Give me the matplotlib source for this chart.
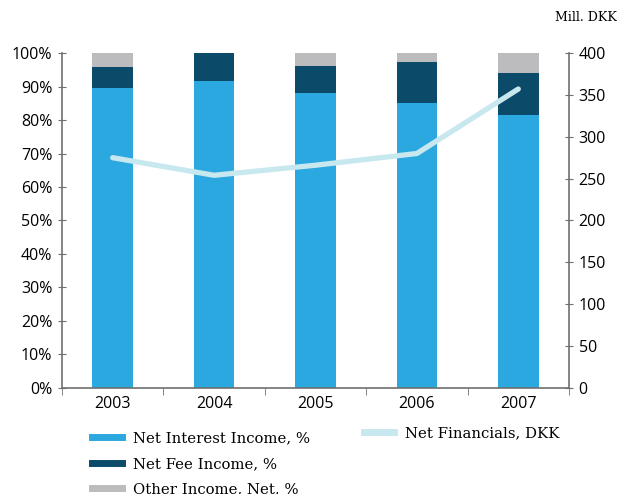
import matplotlib.pyplot as plt
from matplotlib.lines import Line2D

years = ['2003', '2004', '2005', '2006', '2007']
interest_pct = [89.6, 91.6, 88.1, 85.1, 81.5]
fee_pct = [6.2, 8.4, 8.0, 12.2, 12.5]
other_pct = [4.2, 0.0, 3.9, 2.7, 6.0]
net_financials = [275, 254, 266, 280, 357]

c_interest = '#2ca8e0'
c_fee = '#0c4a6a'
c_other = '#bcbcbe'
c_line = '#c8e8f0'
c_axis = '#6f6f6f'

plt.rcParams['font.family'] = ['Open Sans', 'DejaVu Sans']

fig = plt.figure(figsize=(6.18, 4.94), dpi=100)
ax = fig.add_axes([0.1003, 0.2146, 0.8204, 0.6781])

x = list(range(len(years)))
w = 0.4
ax.bar(x, interest_pct, width=w, color=c_interest)
ax.bar(x, fee_pct, width=w, bottom=interest_pct, color=c_fee)
tops = [a + b for a, b in zip(interest_pct, fee_pct)]
ax.bar(x, other_pct, width=w, bottom=tops, color=c_other)

ax.set_xlim(-0.5, len(years) - 0.5)
ax.set_ylim(0, 100)
ax.set_yticks(range(0, 101, 10))
ax.set_yticklabels([f'{v}%' for v in range(0, 101, 10)])
ax.set_xticks(x)
ax.set_xticklabels(years)
ax.set_xticks([i - 0.5 for i in range(len(years) + 1)], minor=True)
ax.tick_params(axis='x', which='major', length=0, labelsize=11.5, pad=6)
ax.tick_params(axis='x', which='minor', length=5, direction='out', color=c_axis)
ax.tick_params(axis='y', length=6, direction='inout', color=c_axis, labelsize=11.5, pad=4)
for s in ['top', 'right']:
    ax.spines[s].set_visible(False)
for s in ['left', 'bottom']:
    ax.spines[s].set_color(c_axis)
    ax.spines[s].set_linewidth(1.2)

ax2 = ax.twinx()
ax2.plot(x, net_financials, color=c_line, lw=3.8, solid_capstyle='round', solid_joinstyle='round')
ax2.set_ylim(0, 400)
ax2.set_yticks(range(0, 401, 50))
ax2.tick_params(axis='y', length=6, direction='inout', color=c_axis, labelsize=11.5, pad=4)
for s in ['top', 'left', 'bottom']:
    ax2.spines[s].set_visible(False)
ax2.spines['right'].set_color(c_axis)
ax2.spines['right'].set_linewidth(1.2)

fig.text(0.998, 0.965, 'Mill. DKK', ha='right', va='center', fontsize=9, family='DejaVu Serif')

# legend: three bar series on the left, the line on the right
serif = {'family': 'DejaVu Serif', 'size': 10.7}
h_left = [Line2D([], [], color=c, lw=5) for c in (c_interest, c_fee, c_other)]
fig.legend(h_left, ['Net Interest Income, %', 'Net Fee Income, %', 'Other Income, Net, %'],
           loc='upper left', bbox_to_anchor=(0.149, 0.127), frameon=False, prop=serif,
           handlelength=2.0, handletextpad=0.75, labelspacing=0.78, borderaxespad=0, borderpad=0)
fig.legend([Line2D([], [], color=c_line, lw=5)], ['Net Financials, DKK'],
           loc='upper left', bbox_to_anchor=(0.589, 0.138), frameon=False, prop=serif,
           handlelength=2.0, handletextpad=0.75, borderaxespad=0, borderpad=0)

fig.savefig('out.png', dpi=100)
